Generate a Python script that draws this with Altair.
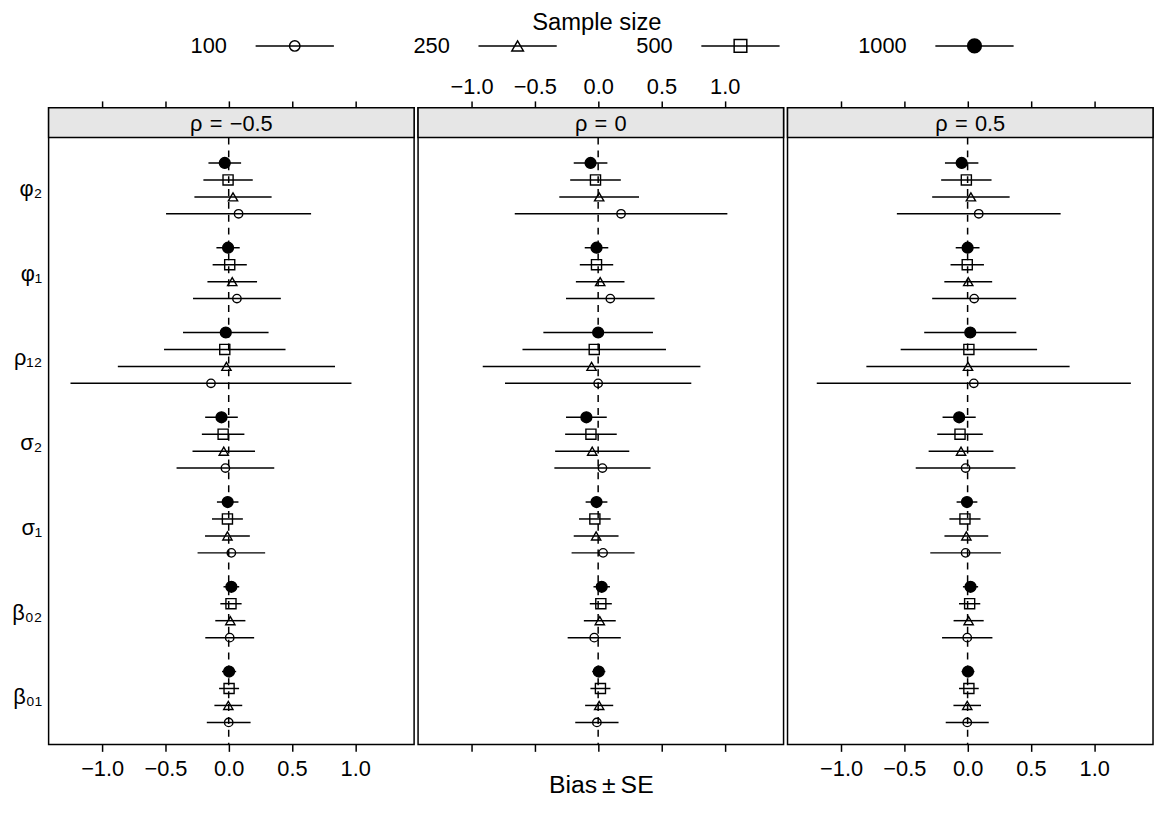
import json
import altair as alt
import pandas as pd

# ---------------- data ----------------
params = ["φ₂", "φ₁", "ρ₁₂", "σ₂", "σ₁", "β₀₂", "β₀₁"]          # top to bottom
sizes = ["100", "250", "500", "1000"]
rho_labels = ["ρ\u2004=\u2004−0.5", "ρ\u2004=\u20040", "ρ\u2004=\u20040.5"]
x_ticks = [-1.0, -0.5, 0.0, 0.5, 1.0]

# rows: params (top to bottom); columns: sample sizes 100, 250, 500, 1000
bias_rho_m05 = [
    [0.078, 0.034, -0.005, -0.031],
    [0.065, 0.028, 0.008, -0.005],
    [-0.140, -0.018, -0.031, -0.023],
    [-0.026, -0.039, -0.044, -0.057],
    [0.021, -0.010, -0.010, -0.008],
    [0.008, 0.013, 0.018, 0.021],
    [0.000, -0.003, 0.003, 0.003],
]
se_rho_m05 = [
    [0.573, 0.305, 0.195, 0.129],
    [0.347, 0.196, 0.135, 0.092],
    [1.110, 0.858, 0.480, 0.338],
    [0.386, 0.247, 0.168, 0.129],
    [0.267, 0.177, 0.122, 0.085],
    [0.193, 0.119, 0.084, 0.062],
    [0.173, 0.110, 0.079, 0.056],
]
bias_rho_0 = [
    [0.181, 0.008, -0.021, -0.060],
    [0.096, 0.016, -0.013, -0.013],
    [0.000, -0.052, -0.031, 0.000],
    [0.034, -0.047, -0.057, -0.093],
    [0.039, -0.016, -0.026, -0.013],
    [-0.031, 0.013, 0.021, 0.028],
    [-0.010, 0.008, 0.018, 0.005],
]
se_rho_0 = [
    [0.840, 0.315, 0.200, 0.133],
    [0.350, 0.192, 0.132, 0.093],
    [0.736, 0.860, 0.567, 0.433],
    [0.380, 0.293, 0.204, 0.161],
    [0.249, 0.177, 0.125, 0.086],
    [0.210, 0.126, 0.087, 0.065],
    [0.171, 0.111, 0.079, 0.052],
]
bias_rho_05 = [
    [0.088, 0.026, -0.010, -0.047],
    [0.052, 0.005, -0.003, 0.000],
    [0.049, 0.003, 0.010, 0.021],
    [-0.016, -0.052, -0.060, -0.067],
    [-0.016, -0.010, -0.021, -0.005],
    [-0.003, 0.008, 0.016, 0.023],
    [-0.003, -0.003, 0.010, 0.003],
]
se_rho_05 = [
    [0.647, 0.306, 0.199, 0.132],
    [0.332, 0.189, 0.132, 0.094],
    [1.241, 0.803, 0.539, 0.364],
    [0.394, 0.256, 0.180, 0.131],
    [0.279, 0.173, 0.123, 0.082],
    [0.199, 0.119, 0.084, 0.060],
    [0.170, 0.109, 0.078, 0.051],
]

biases = [bias_rho_m05, bias_rho_0, bias_rho_05]
ses = [se_rho_m05, se_rho_0, se_rho_05]

# ---------------- layout / style ----------------
FONT = "Liberation Sans"
W = 369.0           # each panel width
H = 642.7           # panel height including strip
STRIP = 30
AXIS_EXT = 40
XDOM = [-1.423, 1.465]
YDOM = [0.44, 7.6]
SHAPES = ["circle", "triangle-up", "square", "circle"]
FILLS = ["transparent", "transparent", "transparent", "black"]

rows = []
n_par = len(params)
for k in range(3):
    for i, p in enumerate(params):
        for j, n in enumerate(sizes):
            rows.append({
                "panel": k, "param": p, "n": n,
                "ypos": (n_par - i) + (j - 1.5) * 0.2,
                "bias": biases[k][i][j], "se": ses[k][i][j],
            })
df = pd.DataFrame(rows)

label_expr = "%s[datum.value - 1]" % json.dumps(params[::-1], ensure_ascii=False)


def panel(k):
    d = df[df.panel == k]
    xscale = alt.Scale(domain=XDOM, nice=False, zero=False)
    yscale = alt.Scale(domain=YDOM, range=[H, STRIP], nice=False, zero=False)

    bottom_axis = alt.Axis(orient="bottom", values=x_ticks, format=".1f",
                           labels=(k != 1), title=("Bias\u2009±\u2009SE" if k == 1 else ""),
                           labelPadding=7, minExtent=29, maxExtent=29, titlePadding=0)
    top_axis = alt.Axis(orient="top", values=x_ticks, format=".1f",
                        labels=(k == 1), title="", labelPadding=2,
                        minExtent=30, maxExtent=30)
    if k == 0:
        yaxis = alt.Axis(values=list(range(1, n_par + 1)), labelExpr=label_expr,
                         ticks=False, domain=False, grid=False, labelPadding=7,
                         labelFontSize=22, minExtent=AXIS_EXT, maxExtent=AXIS_EXT,
                         title="")
    else:
        yaxis = None

    strip_df = pd.DataFrame({"lab": [rho_labels[k]]})
    strip = alt.Chart(strip_df).mark_rect(fill="#e6e6e6", stroke="black", strokeWidth=1.5).encode(
        x=alt.value(0), x2=alt.value(W), y=alt.value(0), y2=alt.value(STRIP))
    stext = alt.Chart(strip_df).mark_text(fontSize=22, baseline="middle", align="center",
                                          color="black", font=FONT).encode(
        x=alt.value(W / 2), y=alt.value(STRIP / 2 + 1), text="lab:N")

    zero = alt.Chart(pd.DataFrame({"z": [0.0]})).mark_rule(
        strokeDash=[7, 6], strokeWidth=1.5, color="black").encode(
        x=alt.X("z:Q", scale=xscale, axis=None),
        y=alt.value(STRIP), y2=alt.value(H))

    base = alt.Chart(d).transform_calculate(
        lo="datum.bias - datum.se", hi="datum.bias + datum.se")

    bars = base.mark_rule(strokeWidth=1.5, color="black").encode(
        x=alt.X("lo:Q", scale=xscale, axis=top_axis),
        x2="hi:Q",
        y=alt.Y("ypos:Q", scale=yscale, axis=yaxis),
    )
    pts = base.mark_point(opacity=1, strokeWidth=1.4, stroke="black").encode(
        x=alt.X("bias:Q", scale=xscale, axis=bottom_axis),
        y=alt.Y("ypos:Q", scale=yscale, axis=yaxis),
        shape=alt.Shape("n:N", scale=alt.Scale(domain=sizes, range=SHAPES), legend=None),
        fill=alt.Fill("n:N", scale=alt.Scale(domain=sizes, range=FILLS), legend=None),
        size=alt.Size("n:O", scale=alt.Scale(domain=sizes, range=[72, 120, 50, 95]), legend=None),
    )
    return alt.layer(strip, stext, zero, bars, pts).resolve_axis(x="independent").properties(
        width=W, height=H,
        view=alt.ViewBackground(stroke="black", strokeWidth=1.5, fill="white"))


# ---------------- key (legend) ----------------
# the key's origin lines up with the left edge of the first panel
LW = 3 * W
KEY_START = 209.0   # first key line start, relative to the first panel
KEY_STEP = 225.0    # spacing between key columns
leg_df = pd.DataFrame({"n": sizes,
                       "pos": [i + 0.05 * (len(s) - 3) for i, s in enumerate(sizes)]})
lx = alt.Scale(domain=[-KEY_START / KEY_STEP, (LW - KEY_START) / KEY_STEP], nice=False, zero=False)
lbase = alt.Chart(leg_df)
LY = 35.5
ltext = lbase.mark_text(align="right", baseline="middle", fontSize=22, dx=-29,
                        color="black", font=FONT).encode(
    x=alt.X("pos:Q", scale=lx, axis=None), y=alt.value(LY), text="n:N")
lline = lbase.mark_rule(strokeWidth=1.5, color="black", x2Offset=79).encode(
    x=alt.X("pos:Q", scale=lx, axis=None), x2="pos:Q", y=alt.value(LY))
lpts = lbase.mark_point(opacity=1, strokeWidth=1.5, stroke="black", xOffset=39.5).encode(
    x=alt.X("pos:Q", scale=lx, axis=None), y=alt.value(LY),
    shape=alt.Shape("n:N", scale=alt.Scale(domain=sizes, range=SHAPES), legend=None),
    fill=alt.Fill("n:N", scale=alt.Scale(domain=sizes, range=FILLS), legend=None),
    size=alt.Size("n:O", scale=alt.Scale(domain=sizes, range=[110, 190, 80, 140]), legend=None),
)
ltitle = alt.Chart(pd.DataFrame({"t": ["Sample size"]})).mark_text(
    fontSize=24, baseline="middle", align="center", color="black", font=FONT).encode(
    x=alt.value(1.5 * W), y=alt.value(12), text="t:N")
legend = alt.layer(ltitle, ltext, lline, lpts).properties(
    width=LW, height=57, view=alt.ViewBackground(stroke="transparent"))

panels = alt.hconcat(panel(0), panel(1), panel(2), spacing=0).resolve_scale(
    shape="independent", fill="independent", size="independent")

chart = alt.vconcat(legend, panels, spacing=7).resolve_scale(
    shape="independent", fill="independent", size="independent").properties(
    padding={"left": 0, "top": -2, "right": 0, "bottom": -4}, background="white"
).configure(font=FONT).configure_axis(
    labelFont=FONT, labelFontSize=22, labelColor="black",
    titleFont=FONT, titleFontSize=25, titleFontWeight="normal", titleColor="black",
    tickColor="black", tickWidth=1.5, tickSize=7, domain=False, grid=False,
)

chart.save("out.html", embed_options={"renderer": "svg", "actions": False})
